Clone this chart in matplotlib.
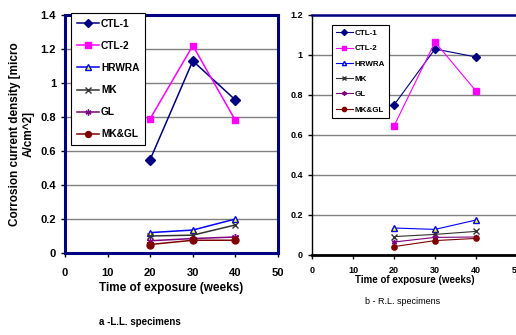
import matplotlib
matplotlib.use("Agg")
import matplotlib.pyplot as plt

weeks = [20, 30, 40]
series = ["CTL-1", "CTL-2", "HRWRA", "MK", "GL", "MK&GL"]

# a - L.L. specimens
ll_ctl1 = [0.55, 1.13, 0.90]
ll_ctl2 = [0.79, 1.22, 0.78]
ll_hrwra = [0.12, 0.135, 0.20]
ll_mk = [0.10, 0.105, 0.165]
ll_gl = [0.072, 0.085, 0.094]
ll_mkgl = [0.05, 0.075, 0.075]

# b - R.L. specimens
rl_ctl1 = [0.75, 1.03, 0.99]
rl_ctl2 = [0.645, 1.065, 0.82]
rl_hrwra = [0.135, 0.128, 0.175]
rl_mk = [0.092, 0.103, 0.118]
rl_gl = [0.065, 0.088, 0.09]
rl_mkgl = [0.042, 0.072, 0.083]

x_ticks = [0, 10, 20, 30, 40, 50]
ll_yticks = [0, 0.2, 0.4, 0.6, 0.8, 1, 1.2, 1.4]
rl_yticks = [0, 0.2, 0.4, 0.6, 0.8, 1, 1.2]

styles = {
    "CTL-1": dict(color="#000080", marker="D", mfc="#000080", mec="#000080"),
    "CTL-2": dict(color="#FF00FF", marker="s", mfc="#FF00FF", mec="#FF00FF"),
    "HRWRA": dict(color="#0000FF", marker="^", mfc="#FFFF00", mec="#0000FF"),
    "MK": dict(color="#333333", marker="x", mfc="#333333", mec="#333333"),
    "GL": dict(color="#800080", marker=(6, 2, 0), mfc="#800080", mec="#800080"),
    "MK&GL": dict(color="#800000", marker="o", mfc="#800000", mec="#800000"),
}

navy = "#000080"
bold_font = ["Liberation Sans", "DejaVu Sans"]
narrow_font = ["Liberation Sans Narrow", "Liberation Sans", "DejaVu Sans"]

fig = plt.figure(figsize=(5.16, 3.35), dpi=100)


def draw(ax, data, yticks, ms, lw, lab_size, fam, weight, spine_w):
    for name, vals in zip(series, data):
        st = styles[name]
        ax.plot(weeks, vals, color=st["color"], lw=lw, marker=st["marker"],
                ms=ms, mfc=st["mfc"], mec=st["mec"], mew=1, label=name,
                clip_on=False, zorder=3)
    ax.set_xlim(0, 50)
    ax.set_ylim(0, yticks[-1])
    ax.set_xticks(x_ticks)
    ax.set_xticklabels([str(t) for t in x_ticks], fontsize=lab_size,
                       family=fam, weight=weight)
    ax.set_yticks(yticks)
    ax.set_yticklabels(["%g" % t for t in yticks], fontsize=lab_size,
                       family=fam, weight=weight)
    ax.yaxis.grid(True, color="#808080", lw=1)
    ax.set_axisbelow(True)
    for s in ax.spines.values():
        s.set_color(navy)
        s.set_linewidth(spine_w)
    ax.tick_params(length=3, width=1, color="black")


# left panel
ax1 = fig.add_axes([65 / 516, 82 / 335, 213 / 516, 238 / 335])
draw(ax1, [ll_ctl1, ll_ctl2, ll_hrwra, ll_mk, ll_gl, ll_mkgl], ll_yticks,
     5, 1.1, 8, bold_font, "bold", 2.2)
ax1.tick_params(axis="x", pad=8)
ax1.set_xlabel("Time of exposure (weeks)", fontsize=8.5, family=bold_font,
               weight="bold", labelpad=3)
ax1.set_ylabel("Corrosion current density [micro\nA/cm^2]", fontsize=8.5,
               family=bold_font, weight="bold", labelpad=4,
               linespacing=1.15)
leg1 = ax1.legend(loc="upper left", bbox_to_anchor=(71 / 516, 1 - 13 / 335),
                  bbox_transform=fig.transFigure, fancybox=False,
                  edgecolor="black", framealpha=1,
                  prop=dict(family=bold_font, weight="bold", size=7.3),
                  handlelength=2.2, labelspacing=1.2, borderpad=0.55,
                  handletextpad=0.2, borderaxespad=0, markerscale=0.85)
leg1.get_frame().set_linewidth(0.8)

# right panel
ax2 = fig.add_axes([312 / 516, 80 / 335, 205 / 516, 240 / 335])
draw(ax2, [rl_ctl1, rl_ctl2, rl_hrwra, rl_mk, rl_gl, rl_mkgl], rl_yticks,
     3.8, 0.8, 6.5, narrow_font, "bold", 1.8)
ax2.spines["left"].set_color("black")
ax2.spines["left"].set_linewidth(1)
ax2.spines["bottom"].set_color("black")
ax2.spines["bottom"].set_linewidth(2)
ax2.tick_params(axis="x", pad=5)
ax2.set_xlabel("Time of exposure (weeks)", fontsize=7, family=narrow_font,
               weight="bold", labelpad=0)
leg2 = ax2.legend(loc="upper left", bbox_to_anchor=(332 / 516, 1 - 25 / 335),
                  bbox_transform=fig.transFigure, fancybox=False,
                  edgecolor="black", framealpha=1,
                  prop=dict(family=narrow_font, weight="bold", size=5.8),
                  handlelength=2.0, labelspacing=0.95, borderpad=0.55,
                  handletextpad=0.2, borderaxespad=0, markerscale=0.8)
leg2.get_frame().set_linewidth(0.8)

fig.text(140 / 516, 1 - 322 / 335, "a -L.L. specimens", fontsize=7,
         family=bold_font, weight="bold", ha="center", va="center")
fig.text(403 / 516, 1 - 301 / 335, "b - R.L. specimens", fontsize=6.5,
         family=narrow_font, ha="center", va="center")

fig.savefig("out.png", dpi=100)
